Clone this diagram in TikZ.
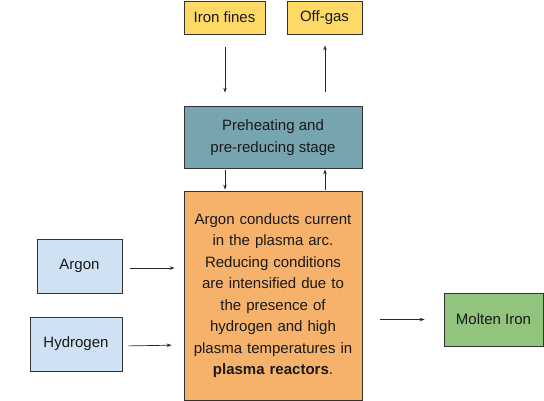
\documentclass[tikz,border=0pt]{standalone}
\usepackage{fontspec}
\setmainfont{Liberation Sans}
\usetikzlibrary{arrows.meta}
\definecolor{cyellow}{HTML}{FFD966}
\definecolor{cteal}{HTML}{76A5AF}
\definecolor{corange}{HTML}{F6B26B}
\definecolor{cblue}{HTML}{CFE2F3}
\definecolor{cgreen}{HTML}{93C47D}
\definecolor{cline}{HTML}{333333}
\tikzset{
  box/.style={draw=cline, line width=0.8pt, inner sep=2pt, align=center,
    font=\fontsize{15}{21.5}\selectfont, text=black!90},
  arr/.style={-{Stealth[length=5pt,width=3.5pt]}, line width=0.7pt, draw=black!85}
}
\begin{document}
\begin{tikzpicture}[x=1pt,y=-1pt]
\useasboundingbox (0,0) rectangle (544,401);
\node[box, fill=cyellow, minimum width=81pt, minimum height=33pt] (iron) at (224.5,17.5) {Iron fines};
\node[box, fill=cyellow, minimum width=75pt, minimum height=33pt] (offgas) at (324.5,17.5) {Off-gas};
\node[box, fill=cteal, minimum width=178pt, minimum height=62pt] (pre) at (273,137.5) {Preheating and\\pre-reducing stage};
\node[box, fill=corange, minimum width=178pt, minimum height=209pt, text width=174pt] (orange) at (273,295.5)
  {Argon conducts current\\in the plasma arc.\\Reducing conditions\\are intensified due to\\the presence of\\hydrogen and high\\plasma temperatures in\\\textbf{plasma reactors}.};
\node[box, fill=cblue, minimum width=85pt, minimum height=54pt] (argon) at (79.5,266) {Argon};
\node[box, fill=cblue, minimum width=92pt, minimum height=54pt] (hyd) at (76,344) {Hydrogen};
\node[box, fill=cgreen, minimum width=99pt, minimum height=53pt] (molten) at (493.5,319.5) {Molten Iron};
\coordinate (xa) at (225,0);
\coordinate (xb) at (325,0);
\draw[arr, shorten <=13pt, shorten >=13.5pt] (xa |- iron.south) -- (xa |- pre.north);
\draw[arr, shorten <=14pt, shorten >=11pt] (xb |- pre.north) -- (xb |- offgas.south);
\draw[arr, shorten <=1pt, shorten >=1pt] (xa |- pre.south) -- (xa |- orange.north);
\draw[arr, shorten <=1pt, shorten >=0.5pt] (xb |- orange.north) -- (xb |- pre.south);
\coordinate (aend) at (argon.east -| orange.west);
\draw[arr, shorten <=8pt, shorten >=9pt] ([yshift=-2pt]argon.east) -- ([yshift=-2pt]aend);
\coordinate (hend) at (hyd.east -| orange.west);
\draw[arr, shorten <=6pt, shorten >=12pt] ([yshift=-2pt]hyd.east) -- ([yshift=-1pt]hend);
\coordinate (mstart) at (molten.west -| orange.east);
\draw[arr, shorten <=18pt, shorten >=19pt] (mstart) -- (molten.west);
\end{tikzpicture}
\end{document}
